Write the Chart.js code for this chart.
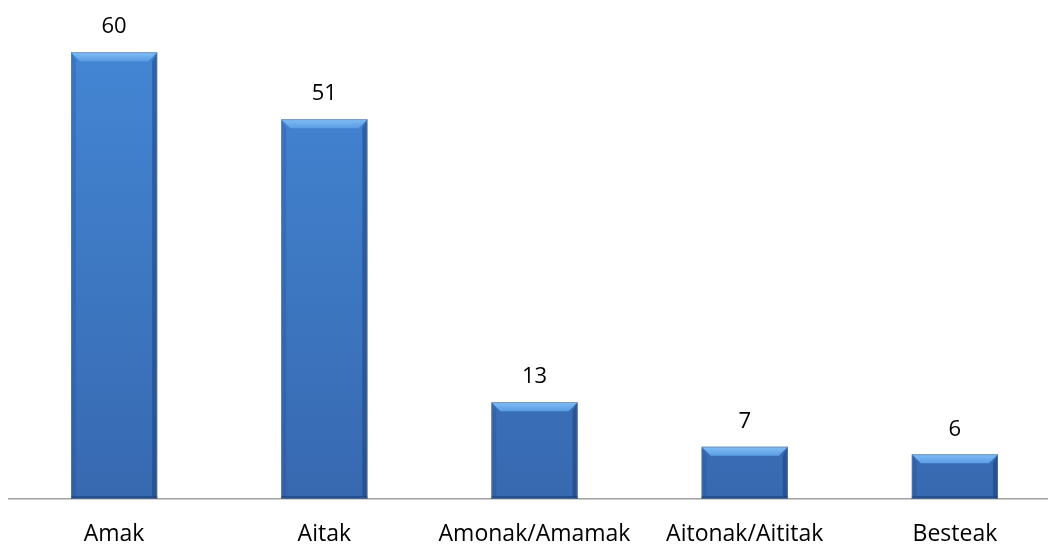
<!DOCTYPE html>
<html>
<head>
<meta charset="utf-8">
<script src="https://cdn.jsdelivr.net/npm/chart.js@4"></script>
<style>
  html, body { margin: 0; padding: 0; background: #fff; overflow: hidden; }
  canvas { display: block; }
</style>
</head>
<body>
<canvas id="myChart" width="1060" height="570"></canvas>
<script>
// categories and counts
var labels = ['Amak', 'Aitak', 'Amonak/Amamak', 'Aitonak/Aititak', 'Besteak'];
var values = [60, 51, 13, 7, 6];

var font = "'Open Sans', sans-serif";

// bevel look of the bars + value labels above them
var bevel = {
    id: 'bevel',
    afterDatasetsDraw: function(chart) {
        var ctx = chart.ctx;
        var meta = chart.getDatasetMeta(0);
        meta.data.forEach(function(bar, i) {
            var l = bar.x - bar.width / 2, r = bar.x + bar.width / 2;
            var t = bar.y, b = bar.base;
            var d = 9;
            ctx.save();
            // top light bevel
            var g = ctx.createLinearGradient(0, t, 0, t + d);
            g.addColorStop(0, '#80bef7');
            g.addColorStop(1, '#5b9de4');
            ctx.fillStyle = g;
            ctx.beginPath();
            ctx.moveTo(l, t); ctx.lineTo(r, t); ctx.lineTo(r - d, t + d); ctx.lineTo(l + d, t + d);
            ctx.closePath(); ctx.fill();
            // left side
            ctx.fillStyle = 'rgba(30,70,130,0.25)';
            ctx.beginPath();
            ctx.moveTo(l, t); ctx.lineTo(l + 5, t + d); ctx.lineTo(l + 5, b - 3); ctx.lineTo(l, b);
            ctx.closePath(); ctx.fill();
            // right side
            ctx.fillStyle = 'rgba(20,55,110,0.45)';
            ctx.beginPath();
            ctx.moveTo(r, t); ctx.lineTo(r - 5, t + d); ctx.lineTo(r - 5, b - 3); ctx.lineTo(r, b);
            ctx.closePath(); ctx.fill();
            // bottom
            ctx.fillStyle = 'rgba(20,55,110,0.5)';
            ctx.fillRect(l, b - 3, bar.width, 3);
            ctx.strokeStyle = 'rgba(120,130,150,0.5)';
            ctx.lineWidth = 1;
            ctx.strokeRect(l + 0.5, t + 0.5, bar.width - 1, b - t - 1);
            ctx.restore();

            ctx.save();
            ctx.fillStyle = '#000';
            ctx.font = '22px ' + font;
            ctx.textAlign = 'center';
            ctx.textBaseline = 'middle';
            ctx.fillText(values[i], bar.x, t - 25);
            ctx.restore();
        });
    }
};

var ctx = document.getElementById('myChart').getContext('2d');
var chart = new Chart(ctx, {
    type: 'bar',
    data: {
        labels: labels,
        datasets: [{
            data: values,
            backgroundColor: function(c) {
                var a = c.chart.chartArea;
                if (!a) return '#3f80cf';
                var g = c.chart.ctx.createLinearGradient(0, a.top, 0, a.bottom);
                g.addColorStop(0, '#4589d8');
                g.addColorStop(1, '#3769b0');
                return g;
            },
            borderWidth: 0,
            barPercentage: 0.41,
            categoryPercentage: 1
        }]
    },
    options: {
        responsive: false,
        animation: false,
        layout: { padding: { left: 9, right: 0, top: 0, bottom: 0 } },
        plugins: {
            legend: { display: false },
            tooltip: { enabled: false }
        },
        scales: {
            x: {
                grid: { display: false, drawTicks: false },
                border: { display: true, color: '#a0a0a0', width: 1.5 },
                ticks: { color: '#000', font: { family: font, size: 23, lineHeight: 1 }, padding: 24, maxRotation: 0, autoSkip: false }
            },
            y: {
                display: false,
                min: 0,
                max: 67
            }
        }
    },
    plugins: [bevel]
});
</script>
</body>
</html>
